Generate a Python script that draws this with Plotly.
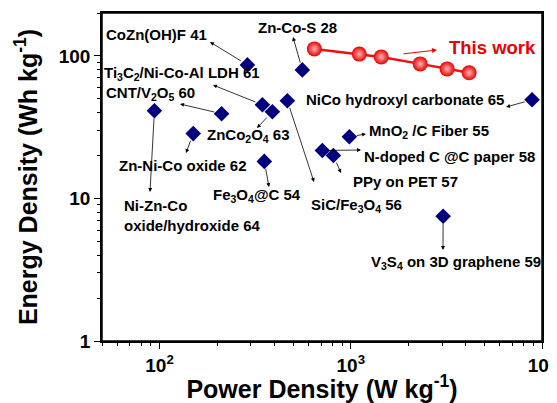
import math
import plotly.graph_objects as go

# ---------------- data ----------------
materials = [
    "CoZn(OH)F 41", "Zn-Co-S 28", "Ti<sub>3</sub>C<sub>2</sub>/Ni-Co-Al LDH 61",
    "ZnCo<sub>2</sub>O<sub>4</sub> 63", "CNT/V<sub>2</sub>O<sub>5</sub> 60",
    "Ni-Zn-Co<br>oxide/hydroxide 64", "Zn-Ni-Co oxide 62",
    "Fe<sub>3</sub>O<sub>4</sub>@C 54", "SiC/Fe<sub>3</sub>O<sub>4</sub> 56",
    "NiCo hydroxyl carbonate 65", "MnO<sub>2</sub> /C Fiber 55",
    "N-doped C @C paper 58", "PPy on PET 57", "V<sub>3</sub>S<sub>4</sub> on 3D graphene 59",
]
power = [288, 558, 345, 389, 211, 94, 150, 353, 466, 8870, 983, 710, 811, 3040]
energy = [86.5, 79.8, 45.4, 40.6, 39.3, 41.2, 28.5, 18.2, 48.5, 49.2, 27.1, 21.7, 20.0, 7.5]

this_power = [645, 1108, 1443, 2306, 3190, 4159]
this_energy = [112, 103, 98.4, 87.9, 81.1, 76.1]
this_label = "This work"

x_tickvals = [100, 1000, 10000]
x_ticktext = ["10<sup>2</sup>", "10<sup>3</sup>", "10<sup>4</sup>"]
y_tickvals = [1, 10, 100]
y_ticktext = ["1", "10", "100"]

# ---------------- layout geometry (pixels, page coordinates) ----------------
OFF = 8                      # default page body margin
W, H = 557 - OFF, 403 - OFF  # figure size so that it fits the window
PL, PR, PT, PB = 102, 542, 13, 341   # plot area in page pixels
L, T = PL - OFF, PT - OFF
R = W - (PR - OFF)
B = H - (PB - OFF)
PW, PH = PR - PL, PB - PT
XR = [math.log10(50), 4.0]
YR = [0.0, math.log10(200)]

def px2lx(px):
    return XR[0] + (px - PL) / PW * (XR[1] - XR[0])

def py2ly(py):
    return YR[0] + (PB - py) / PH * (YR[1] - YR[0])

def px2paper(px):
    return (px - PL) / PW

def py2paper(py):
    return (PB - py) / PH

# label positions (left x, middle y) and arrow head positions, in page pixels
label_pos = [(104, 35), (256, 27), (102, 73), (205, 135), (104, 93), (122, 215),
             (117, 165), (211, 196), (309, 205), (304, 99), (367, 131), (362, 156),
             (351, 181), (369, 262)]
head_pos = [(210, 42), (293, 37), (213, 85), (257, 128), (180, 104), (150, 192),
            (186, 153), (269, 187), (314, 182), (506, 107), (366, 134), (361, 150),
            (341, 173), (443, 250)]

FONT = "Liberation Sans, Arial, sans-serif"

fig = go.Figure()

fig.add_trace(go.Scatter(
    x=power, y=energy, mode="markers",
    marker=dict(symbol="diamond", size=12, color="#00007f"),
    showlegend=False, hoverinfo="skip"))

fig.add_trace(go.Scatter(
    x=this_power, y=this_energy, mode="lines+markers",
    line=dict(color="#ee1111", width=2.5),
    marker=dict(symbol="circle", size=15, color="#e80000",
                gradient=dict(type="radial", color="#ffb3b3")),
    showlegend=False, hoverinfo="skip"))

annotations = []
for i, name in enumerate(materials):
    lx, ly = label_pos[i]
    annotations.append(dict(
        xref="paper", yref="paper", x=px2paper(lx), y=py2paper(ly),
        xanchor="left", yanchor="middle", align="left", text=name, showarrow=False,
        font=dict(family=FONT, size=15, color="black", weight="bold")))
    hx, hy = head_pos[i]
    annotations.append(dict(
        xref="x", yref="y", x=px2lx(hx), y=py2ly(hy),
        axref="x", ayref="y", ax=math.log10(power[i]), ay=math.log10(energy[i]),
        text="", showarrow=True, arrowhead=2, arrowsize=1, arrowwidth=0.8,
        arrowcolor="black", startstandoff=6, standoff=0))

# This work label and arrow
annotations.append(dict(
    xref="paper", yref="paper", x=px2paper(447), y=py2paper(48),
    xanchor="left", yanchor="middle", text=this_label, showarrow=False,
    font=dict(family=FONT, size=18.5, color="#ee0000", weight="bold")))
annotations.append(dict(
    xref="x", yref="y", x=px2lx(437), y=py2ly(50),
    axref="x", ayref="y", ax=px2lx(402), ay=py2ly(54),
    text="", showarrow=True, arrowhead=2, arrowsize=1, arrowwidth=1,
    arrowcolor="#ee0000", standoff=0))

x_minor = [m * 10 ** d for d in range(1, 4) for m in range(2, 10) if 50 <= m * 10 ** d <= 10000]
y_minor = [m * 10 ** d for d in range(0, 3) for m in range(2, 10) if m * 10 ** d <= 200]

fig.update_layout(
    width=W, height=H, autosize=False,
    margin=dict(l=L, r=R, t=T, b=B, pad=0),
    paper_bgcolor="white", plot_bgcolor="white",
    annotations=annotations,
    shapes=[dict(type="rect", xref="paper", yref="paper", x0=0, x1=1, y0=0, y1=1,
                 line=dict(color="black", width=1.5), fillcolor="rgba(0,0,0,0)",
                 layer="above")],
    xaxis=dict(
        type="log", range=XR, showgrid=False, zeroline=False, automargin=False,
        showline=True, linecolor="black", linewidth=1.5, mirror=True,
        ticks="outside", ticklen=6, tickwidth=1.2, tickcolor="black",
        tickvals=x_tickvals, ticktext=x_ticktext, ticklabeloverflow="allow",
        tickfont=dict(family=FONT, size=19, color="black", weight="bold"),
        minor=dict(tickvals=x_minor, ticks="outside", ticklen=3, tickwidth=1.2,
                   tickcolor="black", showgrid=False),
        title=dict(text="Power Density (W kg<sup>-1</sup>)", standoff=3,
                   font=dict(family=FONT, size=25, color="black", weight="bold")),
    ),
    yaxis=dict(
        type="log", range=YR, showgrid=False, zeroline=False, automargin=False,
        showline=True, linecolor="black", linewidth=1.5, mirror=True,
        ticks="outside", ticklen=6, tickwidth=1.2, tickcolor="black",
        tickvals=y_tickvals, ticktext=y_ticktext,
        tickfont=dict(family=FONT, size=19, color="black", weight="bold"),
        minor=dict(tickvals=y_minor, ticks="outside", ticklen=3, tickwidth=1.2,
                   tickcolor="black", showgrid=False),
        title=dict(text="Energy Density (Wh kg<sup>-1</sup>)", standoff=14,
                   font=dict(family=FONT, size=25, color="black", weight="bold")),
    ),
)

fig.write_html("out.html")
